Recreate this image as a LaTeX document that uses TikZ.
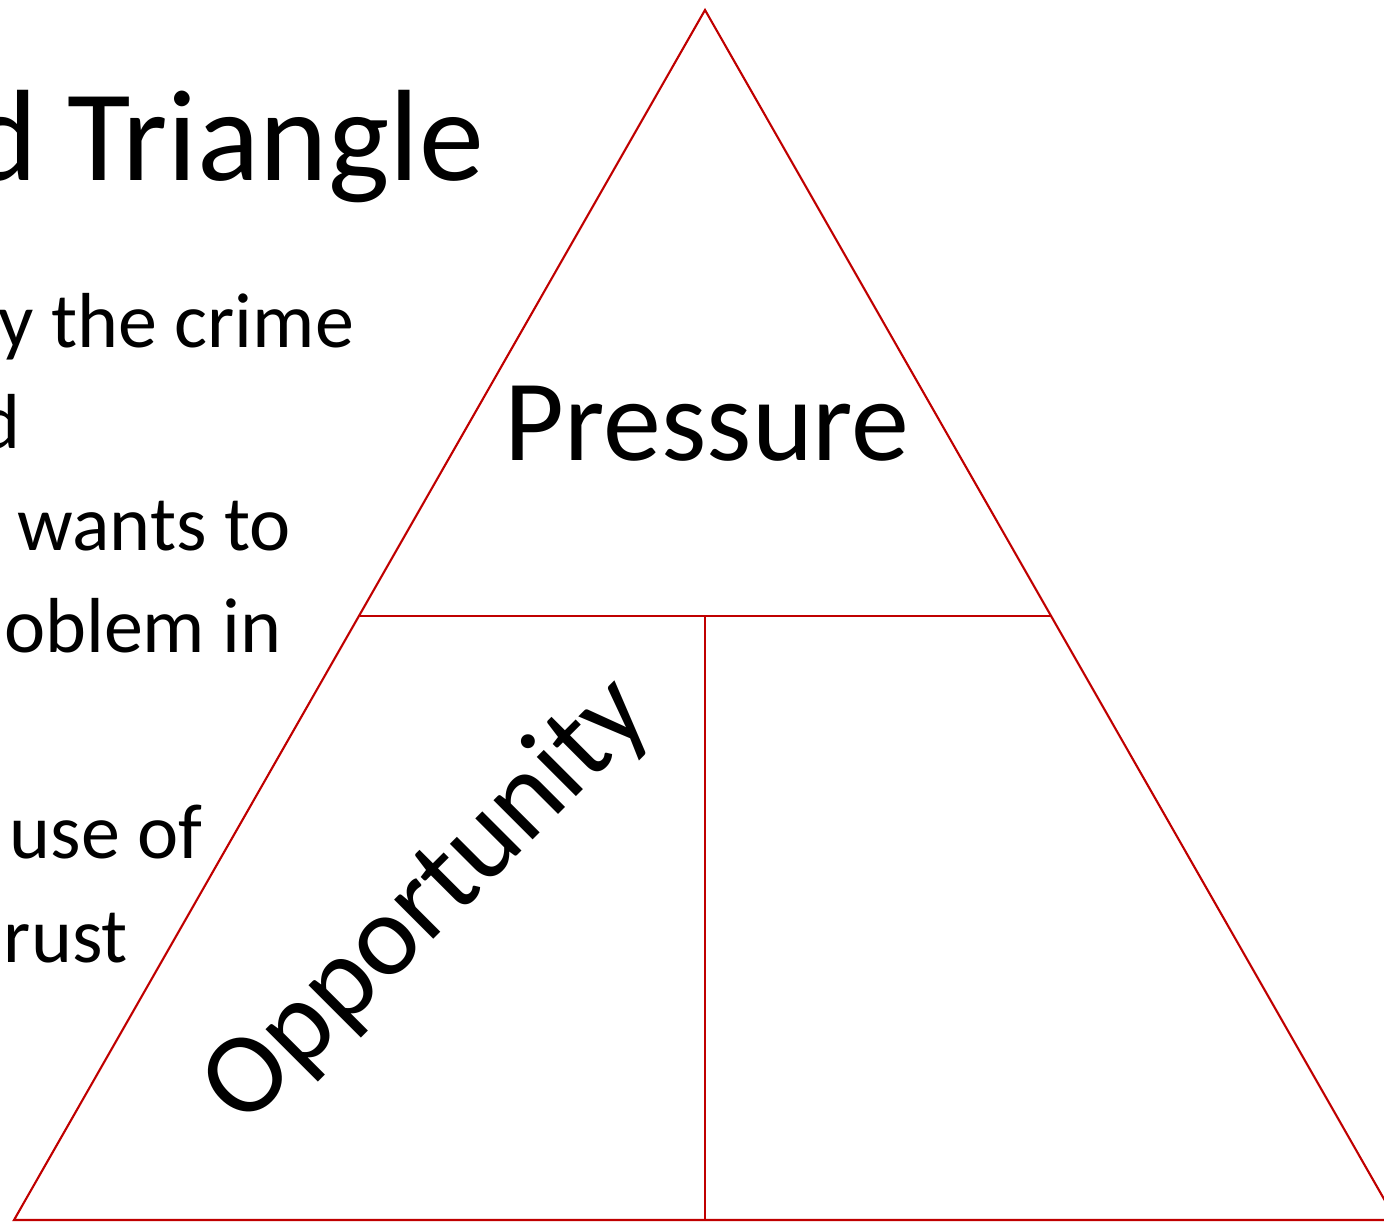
\documentclass[tikz,border=0pt]{standalone}
\usepackage{fontspec}
\setmainfont{Carlito}
\definecolor{tri}{HTML}{C00000}
\begin{document}
\begin{tikzpicture}[x=1pt,y=-1pt,
  edge/.style={draw=tri,line width=2.1pt,line join=miter},
  inner/.style={draw=tri,line width=1.2pt},
  body/.style={anchor=base east,inner sep=0pt,font=\fontsize{78}{90}\selectfont},
  label/.style={inner sep=0pt,font=\fontsize{116}{130}\selectfont}]
\useasboundingbox (0,0) rectangle (1384,1221);
\clip (0,0) rectangle (1384,1221);
\fill[white] (0,0) rectangle (1384,1221);
% title and body text (cut off at the left)
\node[anchor=base east,inner sep=0pt,font=\fontsize{130}{150}\selectfont] (title) at (484,180) {d Triangle};
\node[body] (l1) at (354,347) {y the crime};
\node[body] (l2) at (21,448) {d};
\node[body] (l3) at (291,550) {wants to};
\node[body] (l4) at (282,652) {oblem in};
\node[body] (l5) at (203,858) {use of};
\node[body] (l6) at (128,962) {rust};
% triangle
\coordinate (apex) at (705,10);
\coordinate (bl) at (14,1220);
\coordinate (br) at (1396,1220);
\coordinate (ml) at (359.5,616);
\coordinate (mr) at (1050.5,616);
\coordinate (mid) at (705,616);
\coordinate (bm) at (705,1220);
\draw[edge] (bl) -- (apex) -- (br) -- cycle;
\draw[inner] (ml) -- (mr);
\draw[inner] (mid) -- (bm);
% labels
\node[label,anchor=base] (pressure) at (707,460) {Pressure};
\node[label,rotate=45] (opp) at (428,902) {Opportunity};
\end{tikzpicture}
\end{document}
